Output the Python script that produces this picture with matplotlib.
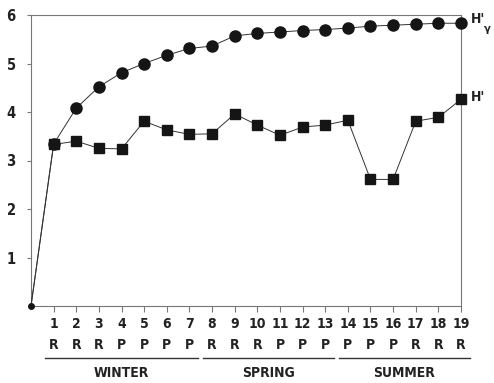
import numpy as np
import matplotlib.pyplot as plt
from matplotlib import font_manager

# samples 0..19, 0 is the origin both curves start from
samples = list(range(0, 20))
h_gamma = [0, 3.34, 4.08, 4.52, 4.81, 5.00, 5.17, 5.31, 5.36, 5.57,
           5.62, 5.65, 5.68, 5.70, 5.73, 5.77, 5.79, 5.81, 5.83, 5.83]
h_prime = [0, 3.33, 3.40, 3.25, 3.24, 3.81, 3.63, 3.54, 3.55, 3.96,
           3.73, 3.52, 3.69, 3.73, 3.83, 2.61, 2.61, 3.81, 3.89, 4.26]
site = ['R', 'R', 'R', 'P', 'P', 'P', 'P', 'R', 'R', 'R',
        'P', 'P', 'P', 'P', 'P', 'P', 'R', 'R', 'R']
seasons = ['WINTER', 'SPRING', 'SUMMER']
season_span = [(1, 7), (8, 13), (14, 19)]

# look for a narrow bold face, the original lettering is condensed
fonts = font_manager.fontManager.ttflist
narrow = [f for f in fonts if ('Narrow' in f.name or 'Condensed' in f.name
          or str(f.stretch) in ('condensed', 'semi-condensed', '500', '300'))]
fam = narrow[0].name if narrow else 'DejaVu Sans'
stretch = narrow[0].stretch if narrow else 'normal'
plt.rcParams['font.family'] = [fam, 'DejaVu Sans']
txt = dict(fontweight='bold', color='#222222', fontstretch=stretch)

fig = plt.figure(figsize=(4.94, 3.83), dpi=100)
ax = fig.add_axes([31/494, 1-306/383, 430/494, 291/383])

mk = list(range(1, len(samples)))  # no big marker on the origin
ax.plot(samples, h_gamma, color='#333333', lw=0.7, marker='o', ms=8, markevery=mk,
        mfc='#151515', mec='#151515', clip_on=False, zorder=3)
ax.plot(samples, h_prime, color='#333333', lw=0.7, marker='s', ms=7, markevery=mk,
        mfc='#151515', mec='#151515', clip_on=False, zorder=3)
ax.plot([samples[0]], [h_gamma[0]], 'o', color='#151515', ms=4, clip_on=False, zorder=4)

ax.set_xlim(0, 19)
ax.set_ylim(0, 6)
for s in ax.spines.values():
    s.set_color('#777777')
    s.set_linewidth(0.8)

ax.set_xticks(samples[1:])
ax.set_xticklabels([str(i) for i in samples[1:]], fontsize=10, **txt)
ax.set_yticks([1, 2, 3, 4, 5, 6])
ax.set_yticklabels(['1', '2', '3', '4', '5', '6'], fontsize=10.5, **txt)
ax.tick_params(axis='x', direction='out', length=4, width=0.8, color='#777777', pad=4)
ax.tick_params(axis='y', direction='out', length=3, width=0.8, color='#777777', pad=8)

tr = ax.get_xaxis_transform()
for i, s in enumerate(site):
    ax.text(i + 1, -0.135, s, transform=tr, ha='center', va='center',
            fontsize=10, **txt)
for name, (a, b) in zip(seasons, season_span):
    ax.plot([a - 0.4, b + 0.4], [-0.178, -0.178], transform=tr, color='#333333',
            lw=1, clip_on=False)
    ax.text((a + b) / 2, -0.23, name, transform=tr, ha='center', va='center',
            fontsize=10, **txt)

ax.text(19.45, h_gamma[-1] + 0.08, "H'", ha='left', va='center', fontsize=10, **txt)
ax.text(20.0, h_gamma[-1] - 0.12, "\u03b3", ha='left', va='center', fontsize=8, **txt)
ax.text(19.45, h_prime[-1] + 0.05, "H'", ha='left', va='center', fontsize=10, **txt)

fig.savefig('out.png', dpi=100, facecolor='white')
